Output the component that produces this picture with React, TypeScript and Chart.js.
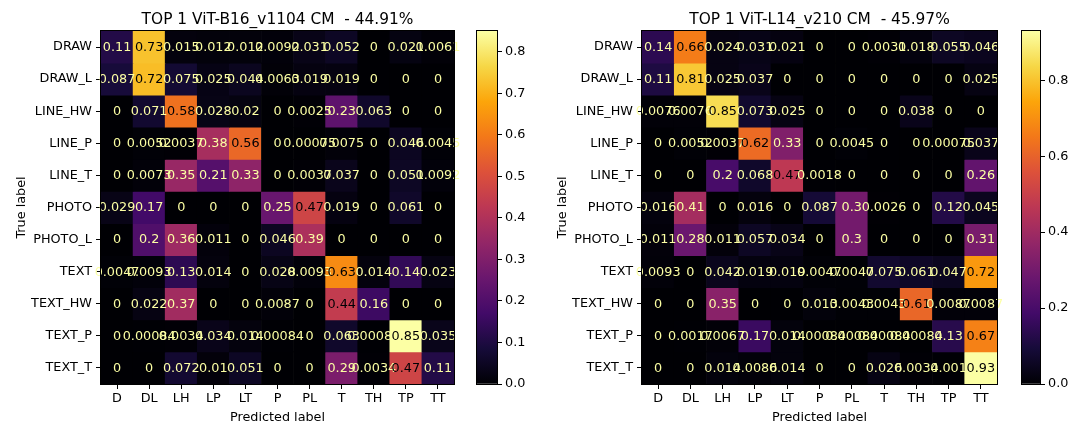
import React, { useEffect, useRef } from 'react';
import { Chart, registerables } from 'chart.js';

Chart.register(...registerables);

// ---------- data ----------
const predictedLabels = ['D', 'DL', 'LH', 'LP', 'LT', 'P', 'PL', 'T', 'TH', 'TP', 'TT'];
const trueLabels = ['DRAW', 'DRAW_L', 'LINE_HW', 'LINE_P', 'LINE_T', 'PHOTO', 'PHOTO_L', 'TEXT', 'TEXT_HW', 'TEXT_P', 'TEXT_T'];

const titleB16 = 'TOP 1 ViT-B16_v1104 CM  - 44.91%';
const titleL14 = 'TOP 1 ViT-L14_v210 CM  - 45.97%';

const cmB16 = [
  [0.11, 0.73, 0.015, 0.012, 0.012, 0.0092, 0.031, 0.052, 0, 0.021, 0.0061],
  [0.087, 0.72, 0.075, 0.025, 0.044, 0.0063, 0.019, 0.019, 0, 0, 0],
  [0, 0.071, 0.58, 0.028, 0.02, 0, 0.0025, 0.23, 0.063, 0, 0],
  [0, 0.0052, 0.0037, 0.38, 0.56, 0, 0.00075, 0.0075, 0, 0.046, 0.0045],
  [0, 0.0073, 0.35, 0.21, 0.33, 0, 0.0037, 0.037, 0, 0.051, 0.0092],
  [0.029, 0.17, 0, 0, 0, 0.25, 0.47, 0.019, 0, 0.061, 0],
  [0, 0.2, 0.36, 0.011, 0, 0.046, 0.39, 0, 0, 0, 0],
  [0.0047, 0.0093, 0.13, 0.014, 0, 0.028, 0.0093, 0.63, 0.014, 0.14, 0.023],
  [0, 0.022, 0.37, 0, 0, 0.0087, 0, 0.44, 0.16, 0, 0],
  [0, 0.00084, 0.0034, 0.034, 0.014, 0.00084, 0, 0.063, 0.00084, 0.85, 0.035],
  [0, 0, 0.072, 0.01, 0.051, 0, 0, 0.29, 0.0034, 0.47, 0.11],
];

const cmL14 = [
  [0.14, 0.66, 0.024, 0.031, 0.021, 0, 0, 0.0031, 0.018, 0.055, 0.046],
  [0.11, 0.81, 0.025, 0.037, 0, 0, 0, 0, 0, 0, 0.025],
  [0.0076, 0.0076, 0.85, 0.073, 0.025, 0, 0, 0, 0.038, 0, 0],
  [0, 0.0052, 0.0037, 0.62, 0.33, 0, 0.0045, 0, 0, 0.00075, 0.037],
  [0, 0, 0.2, 0.068, 0.47, 0.0018, 0, 0, 0, 0, 0.26],
  [0.016, 0.41, 0, 0.016, 0, 0.087, 0.3, 0.0026, 0, 0.12, 0.045],
  [0.011, 0.28, 0.011, 0.057, 0.034, 0, 0.3, 0, 0, 0, 0.31],
  [0.0093, 0, 0.042, 0.019, 0.019, 0.0047, 0.0047, 0.075, 0.061, 0.047, 0.72],
  [0, 0, 0.35, 0, 0, 0.013, 0.0043, 0.0043, 0.61, 0.0087, 0.0087],
  [0, 0.0017, 0.0067, 0.17, 0.014, 0.00084, 0.00084, 0.00084, 0.00084, 0.13, 0.67],
  [0, 0, 0.014, 0.0086, 0.014, 0, 0, 0.026, 0.0034, 0.001, 0.93],
];

const colorbarTicksB16 = [0, 0.1, 0.2, 0.3, 0.4, 0.5, 0.6, 0.7, 0.8];
const colorbarTicksL14 = [0, 0.2, 0.4, 0.6, 0.8];

// ---------- styling ----------
const FONT = '"DejaVu Sans", sans-serif';
const TICK_SIZE = 12.8;
const TITLE_SIZE = 15.4;
const INFERNO = ['#000004', '#160b39', '#420a68', '#6a176e', '#932667', '#bc3754', '#dd513a', '#f37819', '#fca50a', '#f6d746', '#fcffa4'];
const TOP = 31;
const BOTTOM = 384;
const H = 423;

function hexRgb(h: string) {
  return [parseInt(h.slice(1, 3), 16), parseInt(h.slice(3, 5), 16), parseInt(h.slice(5, 7), 16)];
}
function inferno(t: number) {
  const tt = Math.max(0, Math.min(1, t));
  const p = tt * (INFERNO.length - 1);
  const i = Math.min(INFERNO.length - 2, Math.floor(p));
  const f = p - i;
  const a = hexRgb(INFERNO[i]);
  const b = hexRgb(INFERNO[i + 1]);
  const c = a.map((v, k) => Math.round(v + (b[k] - v) * f));
  return `rgb(${c[0]},${c[1]},${c[2]})`;
}
function fmt(v: number) {
  if (v === 0) return '0';
  return String(Number(v.toPrecision(2)));
}

type HeatProps = { matrix: number[][]; title: string; left: number; width: number; yW: number; padRight: number };

function Heatmap({ matrix, title, left, width, yW, padRight }: HeatProps) {
  const ref = useRef<HTMLCanvasElement>(null);
  useEffect(() => {
    const vmax = Math.max(...matrix.flat());
    const vmin = Math.min(...matrix.flat());
    const thresh = (vmax + vmin) / 2;
    const datasets = matrix.map((row, r) => ({
      data: row.map(() => [r - 0.5, r + 0.5]),
      backgroundColor: row.map((v) => inferno(v / vmax)),
      borderWidth: 0,
      barPercentage: 1,
      categoryPercentage: 1,
      grouped: false,
    }));
    const overlay = {
      id: 'overlay',
      afterDatasetsDraw(chart: any) {
        const { ctx, chartArea: a, scales } = chart;
        const x = scales.x;
        const y = scales.y;
        ctx.save();
        ctx.font = `${TICK_SIZE}px ${FONT}`;
        ctx.textAlign = 'center';
        ctx.textBaseline = 'middle';
        matrix.forEach((row, r) =>
          row.forEach((v, c) => {
            ctx.fillStyle = v < thresh ? INFERNO[INFERNO.length - 1] : INFERNO[0];
            ctx.fillText(fmt(v), x.getPixelForValue(c), y.getPixelForValue(r) + 0.5);
          })
        );
        ctx.strokeStyle = '#000';
        ctx.lineWidth = 1;
        ctx.strokeRect(Math.round(a.left) - 0.5, Math.round(a.top) - 0.5, Math.round(a.right - a.left) + 1, Math.round(a.bottom - a.top) + 1);
        ctx.fillStyle = '#000';
        ctx.textBaseline = 'alphabetic';
        ctx.font = `${TITLE_SIZE}px ${FONT}`;
        ctx.fillText(title, (a.left + a.right) / 2, 24);
        ctx.font = `${TICK_SIZE}px ${FONT}`;
        ctx.fillText('Predicted label', (a.left + a.right) / 2, 421);
        ctx.translate(a.left - 76, (a.top + a.bottom) / 2);
        ctx.rotate(-Math.PI / 2);
        ctx.fillText('True label', 0, 0);
        ctx.restore();
      },
    };
    const axisCommon = {
      grid: { display: true, drawOnChartArea: false, offset: false, tickLength: 5, tickColor: '#000', tickWidth: 1 },
      border: { display: false },
    };
    const chart = new Chart(ref.current!, {
      type: 'bar',
      data: { labels: predictedLabels, datasets: datasets as any },
      options: {
        animation: false,
        responsive: false,
        maintainAspectRatio: false,
        layout: { padding: { left: 0, top: TOP, right: padRight, bottom: 0 } },
        plugins: { legend: { display: false }, tooltip: { enabled: false }, title: { display: false } },
        scales: {
          x: {
            type: 'category',
            offset: true,
            ...axisCommon,
            ticks: { color: '#000', font: { family: FONT, size: TICK_SIZE }, padding: 2, maxRotation: 0, autoSkip: false },
            afterFit: (s: any) => {
              s.height = H - BOTTOM;
            },
          },
          y: {
            type: 'linear',
            reverse: true,
            min: -0.5,
            max: 10.5,
            ...axisCommon,
            afterBuildTicks: (s: any) => {
              s.ticks = trueLabels.map((_, i) => ({ value: i }));
            },
            ticks: {
              color: '#000',
              font: { family: FONT, size: TICK_SIZE },
              padding: 4,
              autoSkip: false,
              callback: (v: any) => trueLabels[Number(v)],
            },
            afterFit: (s: any) => {
              s.width = yW;
            },
          },
        },
      } as any,
      plugins: [overlay],
    });
    return () => chart.destroy();
  }, []);
  return <canvas ref={ref} width={width} height={H} style={{ position: 'absolute', left, top: 0, width, height: H }} />;
}

type BarProps = { matrix: number[][]; ticks: number[]; left: number; width: number; padLeft: number; axisW: number };

function Colorbar({ matrix, ticks, left, width, padLeft, axisW }: BarProps) {
  const ref = useRef<HTMLCanvasElement>(null);
  useEffect(() => {
    const vmax = Math.max(...matrix.flat());
    const frame = {
      id: 'frame',
      afterDatasetsDraw(chart: any) {
        const { ctx, chartArea: a } = chart;
        ctx.save();
        ctx.strokeStyle = '#000';
        ctx.lineWidth = 1;
        ctx.strokeRect(Math.round(a.left) - 0.5, Math.round(a.top) - 0.5, Math.round(a.right - a.left) + 1, Math.round(a.bottom - a.top) + 1);
        ctx.restore();
      },
    };
    const chart = new Chart(ref.current!, {
      type: 'bar',
      data: {
        labels: [''],
        datasets: [
          {
            data: [[0, vmax]] as any,
            backgroundColor: (c: any) => {
              const a = c.chart.chartArea;
              if (!a) return 'transparent';
              const g = c.chart.ctx.createLinearGradient(0, a.bottom, 0, a.top);
              INFERNO.forEach((col, i) => g.addColorStop(i / (INFERNO.length - 1), col));
              return g;
            },
            borderWidth: 0,
            barPercentage: 1,
            categoryPercentage: 1,
          },
        ],
      },
      options: {
        animation: false,
        responsive: false,
        maintainAspectRatio: false,
        layout: { padding: { left: padLeft, top: TOP, right: 0, bottom: H - BOTTOM } },
        plugins: { legend: { display: false }, tooltip: { enabled: false } },
        scales: {
          x: { display: false },
          y: {
            type: 'linear',
            position: 'right',
            min: 0,
            max: vmax,
            grid: { display: true, drawOnChartArea: false, tickLength: 5, tickColor: '#000', tickWidth: 1 },
            border: { display: false },
            afterBuildTicks: (s: any) => {
              s.ticks = ticks.map((v) => ({ value: v }));
            },
            ticks: {
              color: '#000',
              font: { family: FONT, size: TICK_SIZE },
              padding: 3,
              callback: (v: any) => Number(v).toFixed(1),
            },
            afterFit: (s: any) => {
              s.width = axisW;
            },
          },
        },
      } as any,
      plugins: [frame],
    });
    return () => chart.destroy();
  }, []);
  return <canvas ref={ref} width={width} height={H} style={{ position: 'absolute', left, top: 0, width, height: H }} />;
}

export default function App() {
  return (
    <div style={{ position: 'fixed', left: 0, top: 0, width: 1074, height: H, background: '#fff', overflow: 'hidden' }}>
      <Heatmap matrix={cmB16} title={titleB16} left={0} width={470} yW={101} padRight={16} />
      <Colorbar matrix={cmB16} ticks={colorbarTicksB16} left={460} width={80} padLeft={17} axisW={43} />
      <Heatmap matrix={cmL14} title={titleL14} left={540} width={480} yW={102} padRight={23} />
      <Colorbar matrix={cmL14} ticks={colorbarTicksL14} left={1000} width={74} padLeft={22} axisW={34} />
    </div>
  );
}
